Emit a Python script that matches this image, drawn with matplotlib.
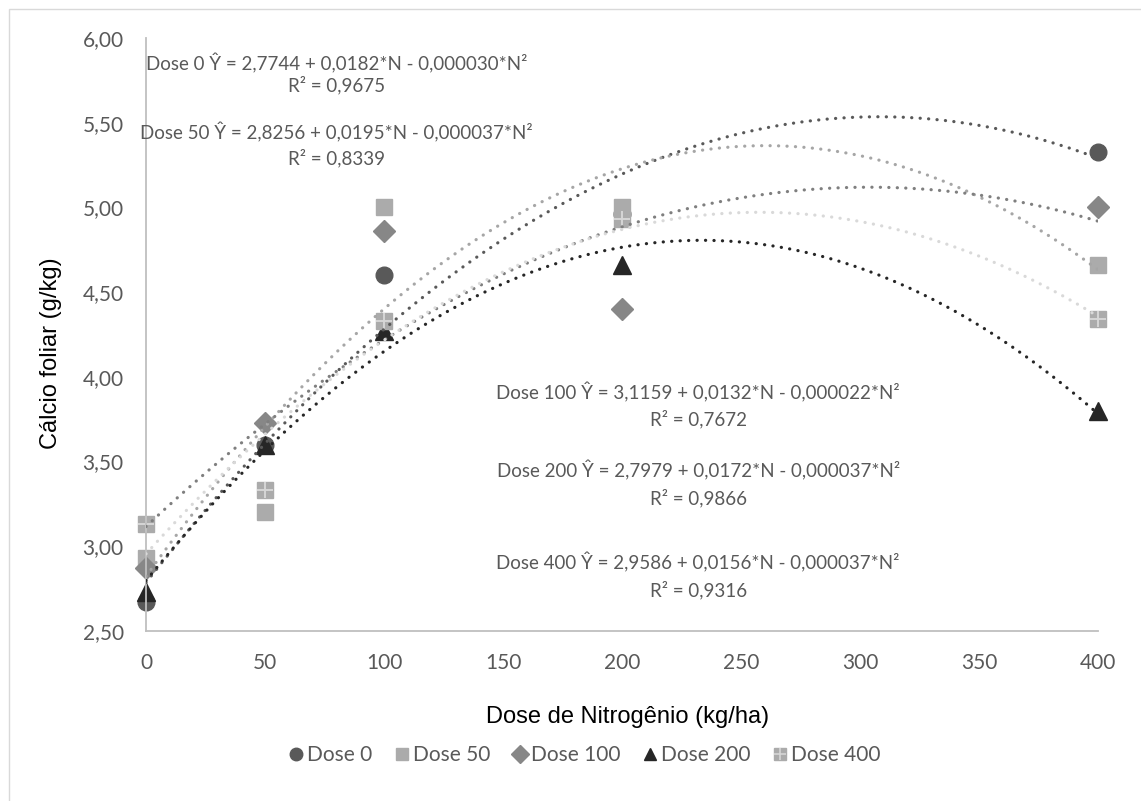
import numpy as np
import matplotlib
matplotlib.use("Agg")
import matplotlib.pyplot as plt
from matplotlib.lines import Line2D
from matplotlib.patches import Rectangle
from matplotlib.ticker import FuncFormatter
from matplotlib.legend_handler import HandlerTuple

plt.rcParams['font.family'] = ['Lato', 'DejaVu Sans']

# nitrogen doses (x) and leaf calcium for each series
doses = [0, 50, 100, 200, 400]
dose0 = [2.67, 3.60, 4.60, 4.96, 5.33]
dose50 = [2.93, 3.20, 5.00, 5.00, 4.66]
dose100 = [2.87, 3.73, 4.86, 4.40, 5.00]
dose200 = [2.73, 3.60, 4.27, 4.66, 3.80]
dose400 = [3.13, 3.33, 4.33, 4.93, 4.34]

labels = ["Dose 0", "Dose 50", "Dose 100", "Dose 200", "Dose 400"]
series = [dose0, dose50, dose100, dose200, dose400]

equations = [
    "Dose 0 Ŷ = 2,7744 + 0,0182*N - 0,000030*N²",
    "Dose 50 Ŷ = 2,8256 + 0,0195*N - 0,000037*N²",
    "Dose 100 Ŷ = 3,1159 + 0,0132*N - 0,000022*N²",
    "Dose 200 Ŷ = 2,7979 + 0,0172*N - 0,000037*N²",
    "Dose 400 Ŷ = 2,9586 + 0,0156*N - 0,000037*N²",
]
r2_text = ["R² = 0,9675", "R² = 0,8339", "R² = 0,7672", "R² = 0,9866", "R² = 0,9316"]
eq_pos = [(80, 5.85, 5.72), (80, 5.445, 5.29), (232, 3.91, 3.75),
          (232, 3.45, 3.285), (232, 2.907, 2.742)]

markers = ['o', 's', 'D', '^', 's']
msizes = [12, 12, 11, 13, 12]
mcolors = ['#595959', '#ABABAB', '#878787', '#262626', '#ABABAB']
lcolors = ['#595959', '#A6A6A6', '#7F7F7F', '#262626', '#D9D9D9']
txtgray = '#595959'

fig = plt.figure(figsize=(11.41, 8.01), dpi=100)
ax = fig.add_axes([146/1141, 1-631/801, (1098-146)/1141, (631-38)/801])

xx = np.linspace(0, 400, 300)
handles = []
for i, ys in enumerate(series):
    ax.plot(doses, ys, linestyle='none', marker=markers[i], ms=msizes[i],
            color=mcolors[i], mec=mcolors[i], zorder=2, clip_on=False)
    if i == 4:
        # cross inside the square for Dose 400
        ax.plot(doses, ys, linestyle='none', marker='+', ms=12, mew=1.4,
                color='#D6D6D6', zorder=2.1, clip_on=False)
    # polynomial trendline (order 2), like the spreadsheet
    coef = np.polyfit(doses, ys, 2)
    ax.plot(xx, np.polyval(coef, xx), color=lcolors[i], lw=2.3,
            linestyle=(0, (0.05, 2.6)), dash_capstyle='round', zorder=3)
    h = Line2D([], [], linestyle='none', marker=markers[i], ms=9,
               color=mcolors[i], mec=mcolors[i])
    if i == 4:
        h = (h, Line2D([], [], linestyle='none', marker='+', ms=9, mew=1.2,
                       color='#D6D6D6'))
    handles.append(h)

for i in range(5):
    x, y1, y2 = eq_pos[i]
    ax.text(x, y1, equations[i], ha='center', va='center', fontsize=13.5, color=txtgray)
    ax.text(x, y2, r2_text[i], ha='center', va='center', fontsize=13.5, color=txtgray)

ax.set_xlim(0, 400)
ax.set_ylim(2.5, 6.0)
ax.set_xticks(np.arange(0, 401, 50))
ax.set_yticks(np.arange(2.5, 6.01, 0.5))
ax.yaxis.set_major_formatter(FuncFormatter(lambda v, p: ("%.2f" % v).replace('.', ',')))
ax.tick_params(length=0, labelsize=15, labelcolor=txtgray)
ax.tick_params(axis='y', pad=16)
ax.tick_params(axis='x', pad=16)
for s in ['top', 'right']:
    ax.spines[s].set_visible(False)
for s in ['left', 'bottom']:
    ax.spines[s].set_color('#BFBFBF')
    ax.spines[s].set_linewidth(1.3)

ax.set_xlabel("Dose de Nitrogênio (kg/ha)", fontsize=17, family='Liberation Sans', color='black')
ax.xaxis.set_label_coords((628-146)/952, -(706-631)/593)
ax.set_ylabel("Cálcio foliar (g/kg)", fontsize=17, family='Liberation Sans', color='black')
ax.yaxis.set_label_coords(-(146-51)/952, (631-353)/593)
ax.yaxis.label.set_va('center')

fig.legend(handles, labels, loc='center', bbox_to_anchor=(583/1141, 1-755/801),
           ncol=5, frameon=False, fontsize=15, labelcolor=txtgray,
           handletextpad=0.05, columnspacing=0.9, handlelength=1.0,
           handler_map={tuple: HandlerTuple(ndivide=1)})

# chart area border
fig.patches.append(Rectangle((9/1141, -0.1), 1.2, 1.1 - 9/801,
                             transform=fig.transFigure, fill=False,
                             edgecolor='#D9D9D9', lw=1.0))

fig.savefig("out.png", dpi=100)
